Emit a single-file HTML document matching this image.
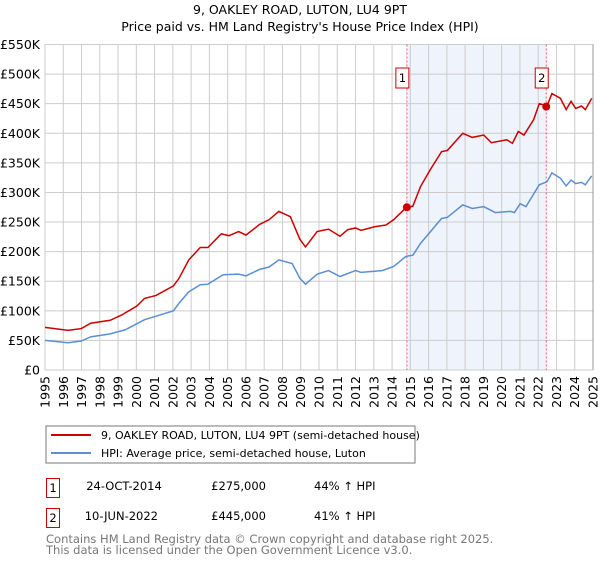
<!DOCTYPE html>
<html><head><meta charset="utf-8"><style>
body{margin:0;background:#fff;width:600px;height:560px;overflow:hidden;font-family:"DejaVu Sans","Liberation Sans",sans-serif;}
svg text{font-family:"DejaVu Sans","Liberation Sans",sans-serif;}
</style></head><body>
<svg id="chart" width="600" height="560" xmlns="http://www.w3.org/2000/svg">
<text x="300" y="14" text-anchor="middle" font-size="12.5" fill="#000">9, OAKLEY ROAD, LUTON, LU4 9PT</text>
<text x="300" y="31" text-anchor="middle" font-size="12.5" fill="#000">Price paid vs. HM Land Registry's House Price Index (HPI)</text>
<g id="plot"></g>
<g>
<rect x="46" y="426" width="369" height="37" fill="#fff" stroke="#777" stroke-width="1"/>
<line x1="51" y1="435" x2="91" y2="435" stroke="#cc0000" stroke-width="2"/>
<text x="101" y="439" font-size="11" fill="#000">9, OAKLEY ROAD, LUTON, LU4 9PT (semi-detached house)</text>
<line x1="51" y1="453" x2="91" y2="453" stroke="#5b8fd4" stroke-width="2"/>
<text x="101" y="457" font-size="11" fill="#000">HPI: Average price, semi-detached house, Luton</text>
</g>
<g font-size="11.5" fill="#000">
<rect x="46.5" y="478.5" width="13" height="19" fill="#fff" stroke="#cc0000"/>
<text x="53" y="492" text-anchor="middle">1</text>
<text x="124" y="490" text-anchor="middle">24-OCT-2014</text>
<text x="266" y="490" text-anchor="end">£275,000</text>
<text x="314" y="490">44% ↑ HPI</text>
<rect x="46.5" y="508.5" width="13" height="19" fill="#fff" stroke="#cc0000"/>
<text x="53" y="522" text-anchor="middle">2</text>
<text x="158" y="520" text-anchor="end">10-JUN-2022</text>
<text x="266" y="520" text-anchor="end">£445,000</text>
<text x="314" y="520">41% ↑ HPI</text>
</g>
<text x="46" y="543" font-size="11.5" fill="#777">Contains HM Land Registry data © Crown copyright and database right 2025.</text>
<text x="46" y="554" font-size="11.5" fill="#777">This data is licensed under the Open Government Licence v3.0.</text>
</svg>
<script>
const yTicks=[0,50,100,150,200,250,300,350,400,450,500,550];
const yTickLabels=["£0","£50K","£100K","£150K","£200K","£250K","£300K","£350K","£400K","£450K","£500K","£550K"];
const years=[1995,1996,1997,1998,1999,2000,2001,2002,2003,2004,2005,2006,2007,2008,2009,2010,2011,2012,2013,2014,2015,2016,2017,2018,2019,2020,2021,2022,2023,2024,2025];
const propT=[1995.0,1996.26,1996.99,1997.5,1998.57,1999.2,2000.03,2000.45,2001.08,2002.03,2002.34,2002.87,2003.5,2003.92,2004.65,2005.07,2005.6,2006.0,2006.75,2007.27,2007.8,2008.43,2008.95,2009.26,2009.9,2010.52,2011.15,2011.57,2012.0,2012.3,2013.04,2013.67,2014.09,2014.76,2015.14,2015.56,2016.08,2016.71,2017.03,2017.87,2018.39,2019.02,2019.44,2020.28,2020.59,2020.91,2021.22,2021.75,2022.06,2022.48,2022.75,2023.22,2023.53,2023.8,2024.05,2024.37,2024.58,2024.93];
const propV=[72,67,70,79,84,93,108,121,126,142,155,186,207,207,230,227,234,228,246,254,268,259,221,208,234,238,226,237,240,236,242,245,254,274,277,310,338,369,371,400,393,397,384,389,383,403,397,423,450,446,467,459,440,454,442,446,440,459];
const hpiT=[1995.0,1996.26,1996.99,1997.5,1998.57,1999.4,2000.45,2001.3,2002.03,2002.34,2002.87,2003.5,2003.92,2004.75,2005.6,2006.0,2006.75,2007.27,2007.8,2008.53,2008.95,2009.26,2009.9,2010.52,2011.15,2012.0,2012.3,2013.46,2014.09,2014.76,2015.14,2015.56,2016.71,2017.03,2017.87,2018.39,2019.02,2019.65,2020.49,2020.7,2021.01,2021.33,2022.06,2022.48,2022.75,2023.22,2023.53,2023.8,2024.05,2024.37,2024.58,2024.93];
const hpiV=[50,46,49,56,61,68,85,93,100,113,132,144,145,161,162,159,170,174,186,180,155,145,162,168,158,168,165,168,175,192,194,214,256,258,279,273,276,266,268,266,281,276,313,318,333,324,311,321,315,317,313,328];
const saleT=[2014.81,2022.44];
const saleV=[275,445];
const saleLabels=["1","2"];

const L=45,R=593,T=44.5,B=370;
const x=t=>L+(t-1995)*(R-L)/30;
const y=v=>B-v*(B-T)/550;
const NS="http://www.w3.org/2000/svg";
const g=document.getElementById('plot');
function mk(tag,attrs,parent){const e=document.createElementNS(NS,tag);for(const k in attrs)e.setAttribute(k,attrs[k]);(parent||g).appendChild(e);return e;}

const shade=mk('rect',{x:x(saleT[0]),y:T,width:x(saleT[1])-x(saleT[0]),height:B-T,fill:'#eef3fc'});



yTicks.forEach((v,i)=>{
  const ln=mk('line',{x1:L,x2:R,y1:y(v),y2:y(v),stroke:'#cccccc','stroke-width':1});
  
  
  const tx=mk('text',{x:L-5,y:y(v)+4.5,'text-anchor':'end','font-size':'12.5',fill:'#000'});
  tx.textContent=yTickLabels[i];
  
  
});
years.forEach(yr=>{
  const ln=mk('line',{x1:x(yr),x2:x(yr),y1:T,y2:B,stroke:'#cccccc','stroke-width':1});
  
  
  const tx=mk('text',{x:0,y:0,'text-anchor':'end','font-size':'12.5',fill:'#000',transform:`translate(${x(yr)+4.5},376) rotate(-90)`});
  tx.textContent=yr;
  
  
});
const rb=mk('line',{x1:R,x2:R,y1:T,y2:B,stroke:'#999','stroke-width':1});



saleT.forEach((t,i)=>{
  const d=mk('line',{x1:x(t),x2:x(t),y1:T,y2:B,stroke:'#e06060','stroke-width':1,'stroke-dasharray':'2,2'});
  
  
  const b=mk('rect',{x:x(t)-11,y:68,width:13,height:20,fill:'#fff',stroke:'#cc0000','stroke-width':1});
  
  
  const tx=mk('text',{x:x(t)-4.5,y:82,'text-anchor':'middle','font-size':'11.5',fill:'#000'});
  tx.textContent=saleLabels[i];
  
  
});

const hp=mk('polyline',{points:hpiT.map((t,i)=>x(t)+','+y(hpiV[i])).join(' '),fill:'none',stroke:'#5b8fd4','stroke-width':1.5});


const pp=mk('polyline',{points:propT.map((t,i)=>x(t)+','+y(propV[i])).join(' '),fill:'none',stroke:'#cc0000','stroke-width':1.5});


saleT.forEach((t,i)=>{
  const c=mk('circle',{cx:x(t),cy:y(saleV[i]),r:4,fill:'#cc0000'});
  
  
});
</script>
</body></html>
